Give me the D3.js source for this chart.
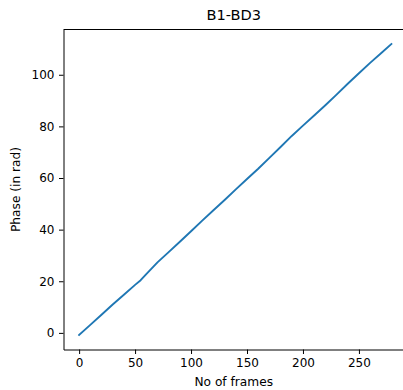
<!DOCTYPE html>
<html><head><meta charset="utf-8">
<script src="https://cdn.jsdelivr.net/npm/d3@7"></script>
<style>body{margin:0;background:#fff}svg{display:block}text{font-family:"DejaVu Sans",sans-serif;fill:#000}</style>
</head><body><svg id="c" width="403" height="390"></svg>
<script>
const frames = [0,10,20,30,40,50,55,60,70,80,90,100,110,120,130,140,150,160,170,180,190,200,210,220,230,240,250,260,270,279];
const phase = [-0.8,3.1,7.0,11.0,14.8,18.6,20.4,22.8,27.3,31.3,35.3,39.4,43.5,47.5,51.5,55.6,59.6,63.6,67.8,72.0,76.3,80.3,84.2,88.2,92.3,96.5,100.6,104.6,108.4,111.9];
const xTicks = [0,50,100,150,200,250];
const yTicks = [0,20,40,60,80,100];
const title = "B1-BD3", xLabel = "No of frames", yLabel = "Phase (in rad)";

const svg = d3.select("#c");
const L = 63.5, R = 407, T = 29.5, B = 349.5;
const xmin = d3.min(frames), xmax = d3.max(frames), ymin = d3.min(phase), ymax = d3.max(phase);
const xm = (xmax - xmin) * 0.05, ym = (ymax - ymin) * 0.05;
const x = d3.scaleLinear().domain([xmin - xm, xmax + xm]).range([L, R]);
const y = d3.scaleLinear().domain([ymin - ym, ymax + ym]).range([B, T]);

const xa = svg.append("g").attr("transform", `translate(0,${B})`)
  .call(d3.axisBottom(x).tickValues(xTicks).tickSize(4.5).tickPadding(4.5).tickSizeOuter(0));
const ya = svg.append("g").attr("transform", `translate(${L},0)`)
  .call(d3.axisLeft(y).tickValues(yTicks).tickSize(4.5).tickPadding(4.5).tickSizeOuter(0));
[xa, ya].forEach(g => {
  g.selectAll("text").style("font-size", "12px").style("font-family", "DejaVu Sans").attr("fill", "#000");
  g.selectAll("line").attr("stroke", "#000");
  g.select(".domain").attr("stroke", "#000");
});
svg.append("line").attr("x1", L).attr("x2", R).attr("y1", T).attr("y2", T).attr("stroke", "#000");
svg.append("line").attr("x1", R).attr("x2", R).attr("y1", T).attr("y2", B).attr("stroke", "#000");

svg.append("path").datum(frames.map((f, i) => [f, phase[i]]))
  .attr("fill", "none").attr("stroke", "#1f77b4").attr("stroke-width", 1.9)
  .attr("stroke-linejoin", "round").attr("stroke-linecap", "square")
  .attr("d", d3.line().x(d => x(d[0])).y(d => y(d[1])));

svg.append("text").attr("x", (L + R) / 2 - 1.5).attr("y", 20).attr("text-anchor", "middle")
  .style("font-size", "14.6px").text(title);
svg.append("text").attr("x", (L + R) / 2 - 1.5).attr("y", 386).attr("text-anchor", "middle")
  .style("font-size", "12.2px").text(xLabel);
svg.append("text").attr("transform", `translate(20,${(T + B) / 2}) rotate(-90)`).attr("text-anchor", "middle")
  .style("font-size", "12.2px").text(yLabel);
</script></body></html>
